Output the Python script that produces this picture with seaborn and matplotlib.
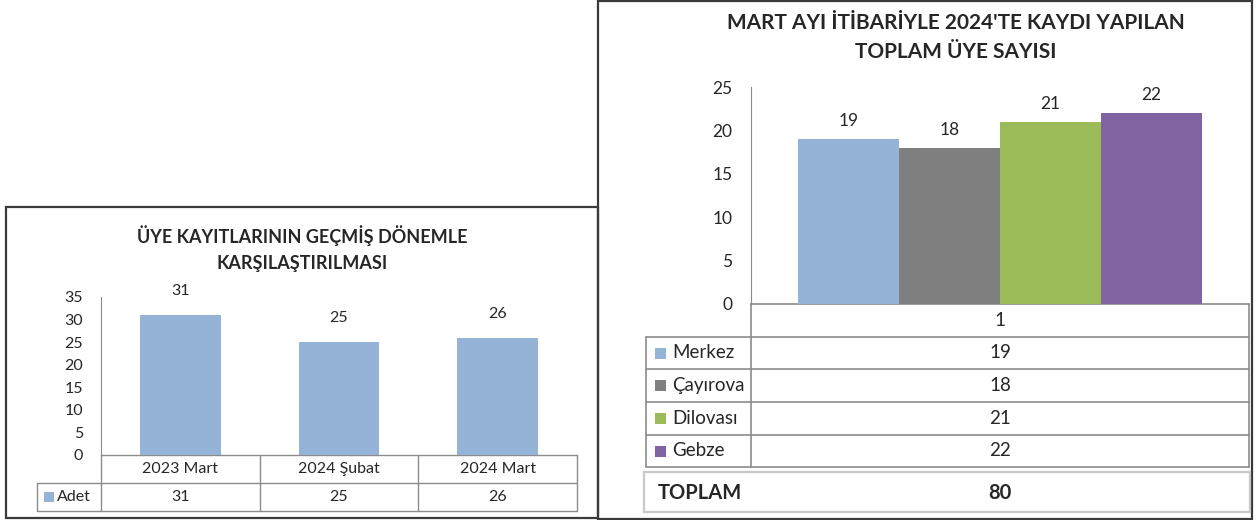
import matplotlib
matplotlib.use("Agg")
import matplotlib.pyplot as plt
import matplotlib.patches as mpatches
import seaborn as sns
import pandas as pd

# --- veriler ---
donemler = ["2023 Mart", "2024 Şubat", "2024 Mart"]
adet = [31, 25, 26]
seri_adi = "Adet"

subeler = ["Merkez", "Çayırova", "Dilovası", "Gebze"]
uye_sayisi = [19, 18, 21, 22]
grup = "1"
toplam = sum(uye_sayisi)

renk_mavi = "#95B3D7"
sube_renkleri = ["#95B3D7", "#7F7F7F", "#9BBB59", "#8064A2"]

baslik_sol = "ÜYE KAYITLARININ GEÇMİŞ DÖNEMLE\nKARŞILAŞTIRILMASI"
baslik_sag = "MART AYI İTİBARİYLE 2024'TE KAYDI YAPILAN\nTOPLAM ÜYE SAYISI"

sns.set_style("white")
plt.rcParams["font.family"] = ["Lato", "DejaVu Sans"]

W, H = 1258, 520
fig = plt.figure(figsize=(W / 100, H / 100), dpi=100)

# piksel koordinatli arka plan ekseni (cerceveler ve tablolar icin)
bg = fig.add_axes([0, 0, 1, 1])
bg.set_xlim(0, W)
bg.set_ylim(H, 0)
bg.axis("off")


def eksen(x0, y0, x1, y1):
    return fig.add_axes([x0 / W, (H - y1) / H, (x1 - x0) / W, (y1 - y0) / H])


izgara = "#8c8c8c"
cerceve = "#3a3a3a"

# ---------------- SOL GRAFIK ----------------
bg.add_patch(mpatches.Rectangle((6, 207), 592, 311, fill=False, ec=cerceve, lw=1.6))
bg.text(302, 248.5, baslik_sol, ha="center", va="center", fontsize=13,
        fontweight="bold", linespacing=1.65)

sol_x0, sol_x1, sol_ust, sol_alt = 101, 577, 297, 455
ax1 = eksen(sol_x0, sol_ust, sol_x1, sol_alt)
ax1.patch.set_alpha(0)
df1 = pd.DataFrame({"donem": donemler, "adet": adet})
sns.barplot(data=df1, x="donem", y="adet", color=renk_mavi, saturation=1,
            width=0.51, linewidth=0, ax=ax1)
ax1.set_xlim(-0.5, len(donemler) - 0.5)
ax1.set_ylim(0, 35)
ax1.set_yticks(range(0, 36, 5))
ax1.set_xticks([])
ax1.set_xlabel("")
ax1.set_ylabel("")
ax1.tick_params(axis="y", length=0, pad=13, labelsize=11.5)
for s in ["top", "right", "bottom"]:
    ax1.spines[s].set_visible(False)
ax1.spines["left"].set_color(izgara)
for c in ax1.containers:
    ax1.bar_label(c, padding=12, fontsize=11.5)

# sol veri tablosu
kol = (sol_x1 - sol_x0) / len(donemler)
bg.plot([sol_x0, sol_x1], [sol_alt, sol_alt], color=izgara, lw=1)
bg.plot([37, sol_x1], [483, 483], color=izgara, lw=1)
bg.plot([37, sol_x1], [511, 511], color=izgara, lw=1)
bg.plot([37, 37], [483, 511], color=izgara, lw=1)
for i in range(len(donemler) + 1):
    bg.plot([sol_x0 + i * kol] * 2, [sol_alt, 511], color=izgara, lw=1)
for i, (d, a) in enumerate(zip(donemler, adet)):
    xc = sol_x0 + (i + 0.5) * kol
    bg.text(xc, 469, d, ha="center", va="center", fontsize=11.5)
    bg.text(xc, 497, str(a), ha="center", va="center", fontsize=11.5)
bg.add_patch(mpatches.Rectangle((44, 492), 10, 10, color=renk_mavi, lw=0))
bg.text(57, 497, seri_adi, ha="left", va="center", fontsize=11.5)

# ---------------- SAG GRAFIK ----------------
bg.add_patch(mpatches.Rectangle((598, 1), 654, 518, fill=False, ec=cerceve, lw=1.6))
bg.text(956, 37.5, baslik_sag, ha="center", va="center", fontsize=15,
        fontweight="bold", linespacing=1.55)

sag_x0, sag_x1, sag_ust, sag_alt = 751, 1249, 87, 304
ax2 = eksen(sag_x0, sag_ust, sag_x1, sag_alt)
ax2.patch.set_alpha(0)
df2 = pd.DataFrame({"grup": [grup] * len(subeler), "sube": subeler, "uye": uye_sayisi})
sns.barplot(data=df2, x="grup", y="uye", hue="sube", palette=sube_renkleri,
            saturation=1, width=0.812, linewidth=0, legend=False, ax=ax2)
ax2.set_xlim(-0.5, 0.5)
ax2.set_ylim(0, 25)
ax2.set_yticks(range(0, 26, 5))
ax2.set_xticks([])
ax2.set_xlabel("")
ax2.set_ylabel("")
ax2.tick_params(axis="y", length=0, pad=13.5, labelsize=12.5)
for s in ["top", "right", "bottom"]:
    ax2.spines[s].set_visible(False)
ax2.spines["left"].set_color(izgara)
for c in ax2.containers:
    ax2.bar_label(c, padding=7, fontsize=12.5)

# sag veri tablosu
satirlar = [304, 337, 369, 402, 435, 467]
bg.plot([sag_x0, sag_x1], [satirlar[0]] * 2, color=izgara, lw=1.2)
for y in satirlar[1:]:
    bg.plot([646, sag_x1], [y, y], color=izgara, lw=1.2)
bg.plot([646, 646], [satirlar[1], satirlar[-1]], color=izgara, lw=1.2)
bg.plot([sag_x0, sag_x0], [satirlar[0], satirlar[-1]], color=izgara, lw=1.2)
bg.plot([sag_x1, sag_x1], [satirlar[0], satirlar[-1]], color=izgara, lw=1.2)
xc = (sag_x0 + sag_x1) / 2
bg.text(xc, (satirlar[0] + satirlar[1]) / 2, grup, ha="center", va="center", fontsize=13.5)
for i, (s, u, r) in enumerate(zip(subeler, uye_sayisi, sube_renkleri)):
    yc = (satirlar[i + 1] + satirlar[i + 2]) / 2
    bg.add_patch(mpatches.Rectangle((655, yc - 5.5), 11, 11, color=r, lw=0))
    bg.text(672, yc, s, ha="left", va="center", fontsize=13.5)
    bg.text(xc, yc, str(u), ha="center", va="center", fontsize=13.5)

# toplam kutusu
bg.add_patch(mpatches.Rectangle((644, 472), 606, 40, fill=False, ec="#c8c8c8", lw=1.6))
bg.text(658, 493, "TOPLAM", ha="left", va="center", fontsize=14.5, fontweight="bold")
bg.text(xc, 493, str(toplam), ha="center", va="center", fontsize=14.5, fontweight="bold")

fig.savefig("out.png", dpi=100)
